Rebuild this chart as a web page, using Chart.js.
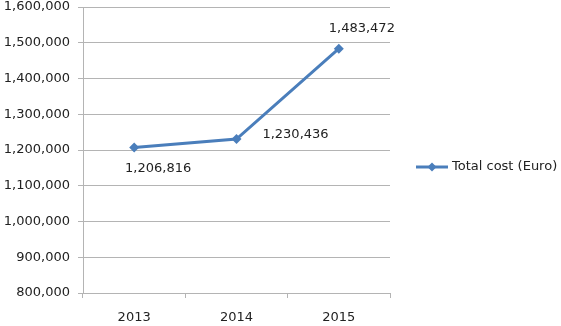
<!DOCTYPE html>
<html>
<head>
<meta charset="utf-8">
<script src="https://cdn.jsdelivr.net/npm/chart.js@4/dist/chart.umd.min.js"></script>
<style>
html,body{margin:0;padding:0;background:#fff;}
#wrap{width:561px;height:326px;position:relative;}
</style>
</head>
<body>
<div id="wrap"><canvas id="c" width="561" height="326"></canvas></div>
<script>
const categories = ["2013", "2014", "2015"];
const totalCost = [1206816, 1230436, 1483472];
const seriesName = "Total cost (Euro)";
const yTicks = [800000, 900000, 1000000, 1100000, 1200000, 1300000, 1400000, 1500000, 1600000];

const FONT = "'DejaVu Sans', sans-serif";
const FS = 13;
const TEXT = "#222";
const BLUE = "#4a7ebb";
const GRID = "#b4b4b4";

const labelOffsets = [[24, 21], [59, -4], [23, -20]];

const fmt = v => v.toLocaleString('en-US');

const labelPlugin = {
  id: 'labels',
  afterDatasetsDraw(chart) {
    const ctx = chart.ctx;
    const meta = chart.getDatasetMeta(0);
    ctx.save();
    ctx.font = FS + "px " + FONT;
    ctx.fillStyle = TEXT;
    ctx.textAlign = 'center';
    ctx.textBaseline = 'middle';
    meta.data.forEach((pt, i) => {
      const o = labelOffsets[i];
      ctx.fillText(fmt(totalCost[i]), pt.x + o[0], pt.y + o[1]);
    });
    // legend
    const ly = 167;
    ctx.strokeStyle = BLUE;
    ctx.lineWidth = 3;
    ctx.beginPath();
    ctx.moveTo(416, ly);
    ctx.lineTo(448, ly);
    ctx.stroke();
    ctx.fillStyle = BLUE;
    ctx.beginPath();
    ctx.moveTo(432, ly - 4.5);
    ctx.lineTo(436.5, ly);
    ctx.lineTo(432, ly + 4.5);
    ctx.lineTo(427.5, ly);
    ctx.closePath();
    ctx.fill();
    ctx.fillStyle = TEXT;
    ctx.textAlign = 'left';
    ctx.fillText(seriesName, 452, ly);
    ctx.restore();
  }
};

new Chart(document.getElementById('c'), {
  type: 'line',
  data: {
    labels: categories,
    datasets: [{
      label: seriesName,
      data: totalCost,
      borderColor: BLUE,
      backgroundColor: BLUE,
      borderWidth: 3,
      pointStyle: 'rectRot',
      pointRadius: 5,
      pointBorderWidth: 0,
      tension: 0
    }]
  },
  options: {
    responsive: false,
    animation: false,
    layout: { padding: { top: 7, right: 171, left: 0, bottom: 0 } },
    plugins: { legend: { display: false }, tooltip: { enabled: false } },
    scales: {
      x: {
        offset: true,
        grid: { display: true, drawOnChartArea: false, drawTicks: true, tickLength: 5, color: GRID, offset: true },
        border: { color: GRID, width: 1 },
        ticks: { color: TEXT, font: { family: FONT, size: FS }, padding: 12, maxRotation: 0 },
        afterFit(s) { s.height = 33; s.paddingLeft = 0; s.paddingRight = 0; }
      },
      y: {
        min: 800000,
        max: 1600000,
        afterBuildTicks(s) { s.ticks = yTicks.map(v => ({ value: v })); },
        grid: { color: GRID, tickLength: 5, drawTicks: true },
        border: { color: GRID, width: 1 },
        ticks: { color: TEXT, font: { family: FONT, size: FS }, padding: 8, callback: v => fmt(v) },
        afterFit(s) { s.width = 83; s.paddingTop = 0; s.paddingBottom = 0; }
      }
    }
  },
  plugins: [labelPlugin]
});
</script>
</body>
</html>
